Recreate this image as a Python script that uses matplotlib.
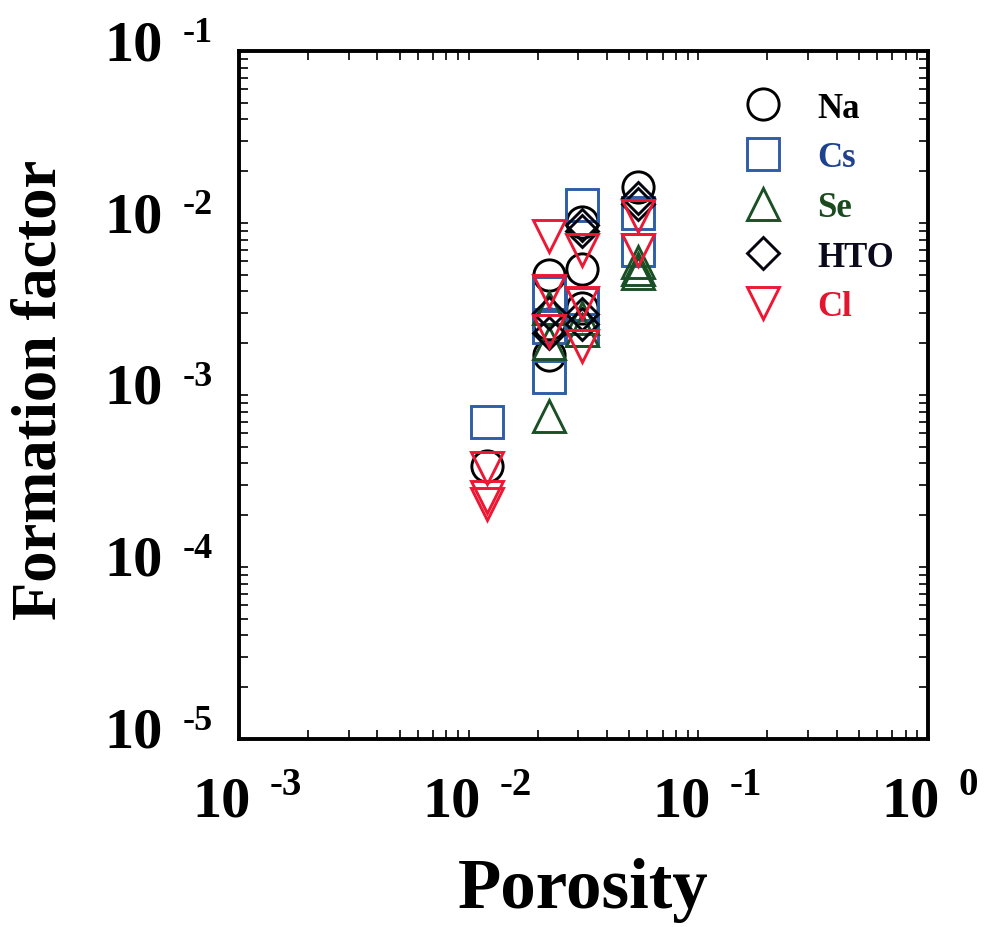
import matplotlib.pyplot as plt
from matplotlib.lines import Line2D

plt.rcParams["font.family"] = ["Liberation Serif", "DejaVu Serif"]
plt.rcParams["font.weight"] = "bold"

# porosity columns and formation factors, one pair of lists per tracer
na_por = [0.012, 0.0224, 0.0224, 0.0224, 0.0311, 0.0311, 0.0311, 0.0546]
na_ff = [3.85e-4, 5.0e-3, 2.6e-3, 1.7e-3, 1.01e-2, 5.4e-3, 3.2e-3, 1.62e-2]

cs_por = [0.012, 0.0224, 0.0224, 0.0224, 0.0311, 0.0311, 0.0311, 0.0546, 0.0546]
cs_ff = [6.95e-4, 3.9e-3, 2.5e-3, 1.27e-3, 1.27e-2, 3.4e-3, 2.4e-3, 1.15e-2, 7.0e-3]

se_por = [0.0224, 0.0224, 0.0224, 0.0311, 0.0311, 0.0546, 0.0546, 0.0546]
se_ff = [3.2e-3, 2.0e-3, 7.6e-4, 2.8e-3, 2.4e-3, 5.9e-3, 5.4e-3, 5.1e-3]

hto_por = [0.0224, 0.0224, 0.0311, 0.0311, 0.0311, 0.0311, 0.0546, 0.0546]
hto_ff = [3.0e-3, 2.3e-3, 9.8e-3, 9.0e-3, 2.95e-3, 2.6e-3, 1.4e-2, 1.29e-2]

cl_por = [0.012, 0.012, 0.012, 0.0224, 0.0224, 0.0224, 0.0311, 0.0311, 0.0311, 0.0546, 0.0546]
cl_ff = [3.76e-4, 2.55e-4, 2.32e-4, 8.4e-3, 4.03e-3, 2.35e-3, 7.0e-3, 3.43e-3, 1.93e-3, 1.1e-2, 6.97e-3]

labels = ["Na", "Cs", "Se", "HTO", "Cl"]
data = [(na_por, na_ff), (cs_por, cs_ff), (se_por, se_ff), (hto_por, hto_ff), (cl_por, cl_ff)]
markers = ["o", "s", "^", "D", "v"]
msizes = [22.5, 22.5, 22.5, 16.5, 22.5]
edge = ["#000000", "#2d5ea6", "#1b4f26", "#05050f", "#ec1834"]
textc = ["#000000", "#1f428f", "#1a4a1e", "#0a0a1c", "#e51530"]

fig = plt.figure(figsize=(9.89, 9.28), dpi=100)
ax = fig.add_axes([239 / 989, 188 / 928, 689 / 989, 688 / 928])

for (px, fy), m, ms, c in zip(data, markers, msizes, edge):
    ax.plot(px, fy, ls="none", marker=m, ms=ms, mfc="none", mec=c, mew=2.1)

ax.set_xscale("log")
ax.set_yscale("log")
ax.set_xlim(1e-3, 1)
ax.set_ylim(1e-5, 1e-1)
for s in ax.spines.values():
    s.set_linewidth(2.8)
ax.tick_params(which="both", direction="in", top=True, right=True,
               length=6.5, width=1.2, labelbottom=False, labelleft=False)

# tick labels written as "10" with a small raised exponent
for e in range(-3, 1):
    ax.annotate("10", xy=(10.0 ** e, 0), xycoords=("data", "axes fraction"),
                xytext=(12, -37), textcoords="offset pixels",
                ha="right", va="top", fontsize=42)
    ax.annotate(f"{e}", xy=(10.0 ** e, 0), xycoords=("data", "axes fraction"),
                xytext=(31, -27), textcoords="offset pixels",
                ha="left", va="top", fontsize=28)
for e in range(-5, 0):
    ax.annotate("10", xy=(0, 10.0 ** e), xycoords=("axes fraction", "data"),
                xytext=(-76, -8), textcoords="offset pixels",
                ha="right", va="baseline", fontsize=42)
    ax.annotate(f"{e}", xy=(0, 10.0 ** e), xycoords=("axes fraction", "data"),
                xytext=(-56, 35), textcoords="offset pixels",
                ha="left", va="top", fontsize=26)

fig.text(583 / 989, (928 - 908) / 928, "Porosity", ha="center", va="baseline", fontsize=51)
fig.text(41 / 989, (928 - 390) / 928, "Formation factor", ha="center", va="center",
         rotation=90, fontsize=45)

handles = [Line2D([], [], ls="none", marker=m, ms=ms, mfc="none", mec=c, mew=2.1)
           for m, ms, c in zip(markers, msizes, edge)]
ax.legend(handles, labels, loc="upper left", bbox_to_anchor=(0.736, 0.941),
          frameon=False, fontsize=25, handlelength=1.0, handletextpad=1.05,
          labelspacing=0.48, borderaxespad=0, borderpad=0, labelcolor=textc)

fig.savefig("out.png", dpi=100)
